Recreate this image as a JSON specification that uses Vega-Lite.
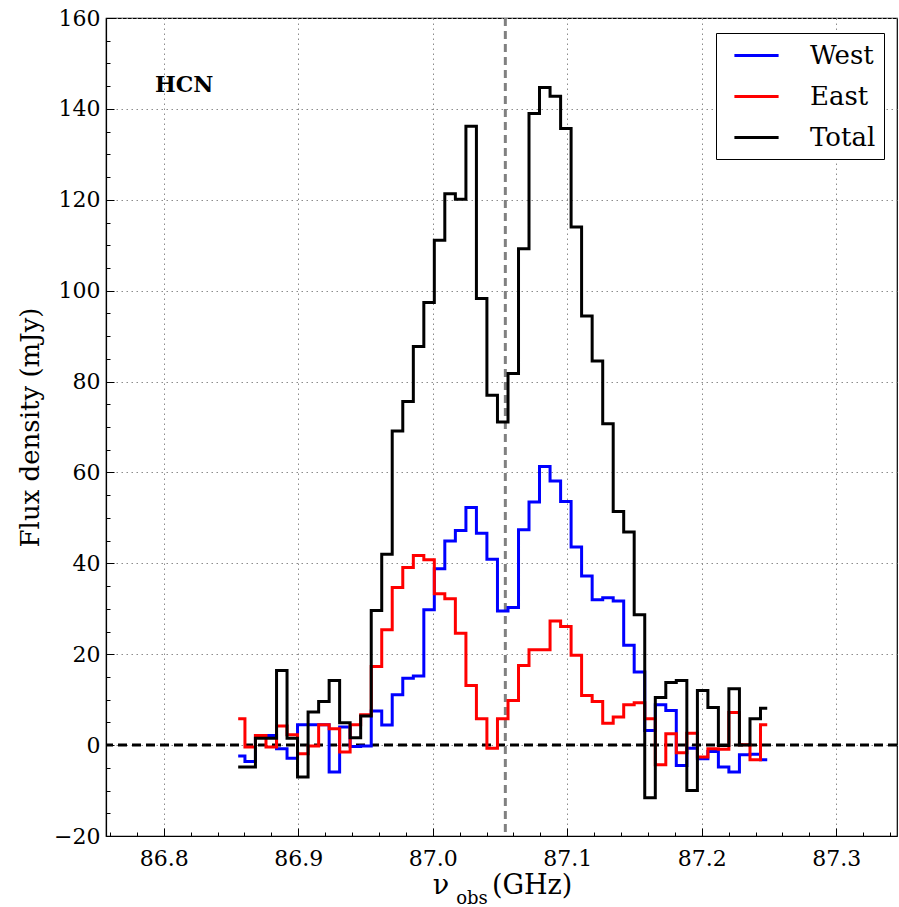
{
  "$schema": "https://vega.github.io/schema/vega-lite/v6.json",
  "width": 791,
  "height": 818,
  "autosize": {"type": "none"},
  "padding": {"left": 106, "top": 18, "right": 2, "bottom": 71},
  "background": "white",
  "config": {
    "view": {"stroke": "black", "strokeWidth": 1.2},
    "font": "DejaVu Serif",
    "axis": {
      "labelFont": "DejaVu Serif",
      "titleFont": "DejaVu Serif",
      "labelColor": "black",
      "titleColor": "black",
      "tickColor": "black",
      "domainColor": "black",
      "titleFontWeight": "normal"
    }
  },
  "data": {"values": [{}]},
  "datasets": {
    "spec": [
      {"x": 86.8565, "West": -2.4, "East": 5.8, "Total": -4.8},
      {"x": 86.8643, "West": -3.6, "East": -0.4, "Total": -4.8},
      {"x": 86.8721, "West": 2.1, "East": 2.1, "Total": 1.5},
      {"x": 86.8800, "West": 2.1, "East": -0.4, "Total": 1.5},
      {"x": 86.8878, "West": -0.8, "East": 4.2, "Total": 16.4},
      {"x": 86.8956, "West": -2.9, "East": 2.3, "Total": 1.5},
      {"x": 86.9034, "West": 4.5, "East": -1.9, "Total": -7.0},
      {"x": 86.9113, "West": 4.5, "East": -0.2, "Total": 7.3},
      {"x": 86.9191, "West": 4.5, "East": 4.5, "Total": 9.6},
      {"x": 86.9269, "West": -5.9, "East": 3.6, "Total": 14.2},
      {"x": 86.9347, "West": 4.0, "East": -1.5, "Total": 4.9},
      {"x": 86.9425, "West": -0.3, "East": 4.5, "Total": 1.6},
      {"x": 86.9504, "West": -0.2, "East": 6.7, "Total": 6.4},
      {"x": 86.9582, "West": 7.5, "East": 17.3, "Total": 29.6},
      {"x": 86.9660, "West": 4.4, "East": 25.4, "Total": 42.0},
      {"x": 86.9738, "West": 11.1, "East": 34.7, "Total": 69.1},
      {"x": 86.9817, "West": 14.7, "East": 39.1, "Total": 75.6},
      {"x": 86.9895, "West": 15.2, "East": 41.7, "Total": 87.7},
      {"x": 86.9973, "West": 29.8, "East": 40.8, "Total": 97.4},
      {"x": 87.0051, "West": 38.8, "East": 33.3, "Total": 111.1},
      {"x": 87.0129, "West": 44.9, "East": 32.2, "Total": 121.3},
      {"x": 87.0208, "West": 47.2, "East": 24.6, "Total": 120.1},
      {"x": 87.0286, "West": 52.3, "East": 13.1, "Total": 136.2},
      {"x": 87.0364, "West": 46.6, "East": 5.8, "Total": 98.3},
      {"x": 87.0442, "West": 40.9, "East": -0.7, "Total": 77.0},
      {"x": 87.0521, "West": 29.5, "East": 5.8, "Total": 71.1},
      {"x": 87.0599, "West": 30.3, "East": 9.8, "Total": 81.8},
      {"x": 87.0677, "West": 47.4, "East": 17.5, "Total": 109.2},
      {"x": 87.0755, "West": 53.5, "East": 21.0, "Total": 139.0},
      {"x": 87.0833, "West": 61.3, "East": 21.0, "Total": 144.7},
      {"x": 87.0912, "West": 58.1, "East": 27.3, "Total": 142.8},
      {"x": 87.0990, "West": 53.6, "East": 26.1, "Total": 135.7},
      {"x": 87.1068, "West": 43.6, "East": 19.8, "Total": 114.0},
      {"x": 87.1146, "West": 37.2, "East": 10.9, "Total": 94.4},
      {"x": 87.1225, "West": 32.0, "East": 9.6, "Total": 84.5},
      {"x": 87.1303, "West": 32.4, "East": 4.8, "Total": 70.7},
      {"x": 87.1381, "West": 31.7, "East": 6.2, "Total": 51.4},
      {"x": 87.1459, "West": 22.0, "East": 8.9, "Total": 46.9},
      {"x": 87.1537, "West": 16.1, "East": 9.3, "Total": 28.7},
      {"x": 87.1616, "West": 3.2, "East": 5.8, "Total": -11.6},
      {"x": 87.1694, "West": 8.9, "East": -4.3, "Total": 10.5},
      {"x": 87.1772, "West": 7.6, "East": 2.5, "Total": 13.8},
      {"x": 87.1850, "West": -4.5, "East": -1.7, "Total": 14.2},
      {"x": 87.1929, "West": -0.7, "East": 2.6, "Total": -10.0},
      {"x": 87.2007, "West": -3.0, "East": -2.6, "Total": 12.0},
      {"x": 87.2085, "West": -1.4, "East": -0.8, "Total": 8.3},
      {"x": 87.2163, "West": -4.8, "East": -0.9, "Total": -0.1},
      {"x": 87.2241, "West": -5.9, "East": 7.2, "Total": 12.4},
      {"x": 87.2320, "West": -2.1, "East": 0.1, "Total": 0.0},
      {"x": 87.2398, "West": -2.0, "East": -3.2, "Total": 5.8},
      {"x": 87.2476, "West": -3.2, "East": 4.5, "Total": 8.1}
    ]
  },
  "layer": [
    {
      "mark": {"type": "rule", "color": "black", "strokeWidth": 3, "strokeDash": [9, 5]},
      "encoding": {
        "y": {
          "datum": 0,
          "type": "quantitative",
          "scale": {"domain": [-20, 160], "nice": false, "zero": false},
          "axis": {
            "orient": "left",
            "values": [-15, -10, -5, 5, 10, 15, 25, 30, 35, 45, 50, 55, 65, 70, 75, 85, 90, 95, 105, 110, 115, 125, 130, 135, 145, 150, 155],
            "labels": false,
            "grid": false,
            "domain": false,
            "tickSize": -4,
            "title": null
          }
        }
      }
    },
    {
      "mark": {"type": "rule", "color": "#808080", "strokeWidth": 3, "strokeDash": [8, 5]},
      "encoding": {
        "x": {
          "datum": 87.054,
          "type": "quantitative",
          "scale": {"domain": [86.7571, 87.3452], "nice": false, "zero": false},
          "axis": {
            "orient": "bottom",
            "values": [86.76, 86.78, 86.82, 86.84, 86.86, 86.88, 86.92, 86.94, 86.96, 86.98, 87.02, 87.04, 87.06, 87.08, 87.12, 87.14, 87.16, 87.18, 87.22, 87.24, 87.26, 87.28, 87.32, 87.34],
            "labels": false,
            "grid": false,
            "domain": false,
            "tickSize": -4,
            "title": "obs",
            "titleFontSize": 18,
            "titleX": 365.5,
            "titleY": 67,
            "titleAlign": "center",
            "titleBaseline": "alphabetic",
            "titleAnchor": null
          }
        }
      }
    },
    {
      "data": {"name": "spec"},
      "transform": [{"fold": ["West", "East", "Total"], "as": ["series", "flux"]}],
      "mark": {"type": "line", "interpolate": "step", "strokeWidth": 3, "strokeCap": "square"},
      "encoding": {
        "x": {
          "field": "x",
          "type": "quantitative",
          "scale": {"domain": [86.7571, 87.3452], "nice": false, "zero": false},
          "axis": {
            "orient": "bottom",
            "values": [86.8, 86.9, 87.0, 87.1, 87.2, 87.3],
            "format": ".1f",
            "labelFontSize": 22,
            "tickSize": -8,
            "labelPadding": 20,
            "grid": true,
            "gridColor": "#8c8c8c",
            "gridDash": [1.5, 3.5],
            "gridWidth": 1,
            "domainWidth": 1.2,
            "labelFlush": false,
            "title": "ν\u00a0\u00a0\u00a0\u00a0\u00a0(GHz)",
            "titleFontSize": 27,
            "titleX": 396,
            "titleY": 57,
            "titleAlign": "center",
            "titleBaseline": "alphabetic"
          }
        },
        "y": {
          "field": "flux",
          "type": "quantitative",
          "scale": {"domain": [-20, 160], "nice": false, "zero": false},
          "axis": {
            "orient": "left",
            "values": [-20, 0, 20, 40, 60, 80, 100, 120, 140, 160],
            "labelFontSize": 22,
            "tickSize": -8,
            "labelPadding": 14,
            "grid": true,
            "gridColor": "#8c8c8c",
            "gridDash": [1.5, 3.5],
            "gridWidth": 1,
            "domainWidth": 1.2,
            "labelFlush": false,
            "title": "Flux density (mJy)",
            "titleFontSize": 26,
            "titleX": -68,
            "titleY": 409,
            "titleAngle": -90,
            "titleAlign": "center",
            "titleBaseline": "alphabetic"
          }
        },
        "color": {
          "field": "series",
          "type": "nominal",
          "scale": {"domain": ["West", "East", "Total"], "range": ["#0000ff", "#ff0000", "#000000"]},
          "legend": {
            "orient": "none",
            "legendX": 610,
            "legendY": 15,
            "title": null,
            "symbolType": "M-1.7,0L1.7,0",
            "symbolSize": 676,
            "symbolStrokeWidth": 3,
            "labelFontSize": 26,
            "labelFont": "DejaVu Serif",
            "labelColor": "black",
            "strokeColor": "black",
            "fillColor": "white",
            "padding": 8,
            "rowPadding": 13,
            "labelOffset": 39,
            "symbolOffset": 18,
            "cornerRadius": 0
          }
        }
      }
    },
    {
      "mark": {"type": "text", "text": "HCN", "font": "DejaVu Serif", "fontWeight": "bold", "fontSize": 22, "align": "left", "baseline": "alphabetic", "color": "black"},
      "encoding": {
        "x": {"datum": 86.7935, "type": "quantitative", "axis": null},
        "y": {"datum": 143.8, "type": "quantitative", "axis": null}
      }
    }
  ],
  "resolve": {"axis": {"x": "independent", "y": "independent"}}
}
